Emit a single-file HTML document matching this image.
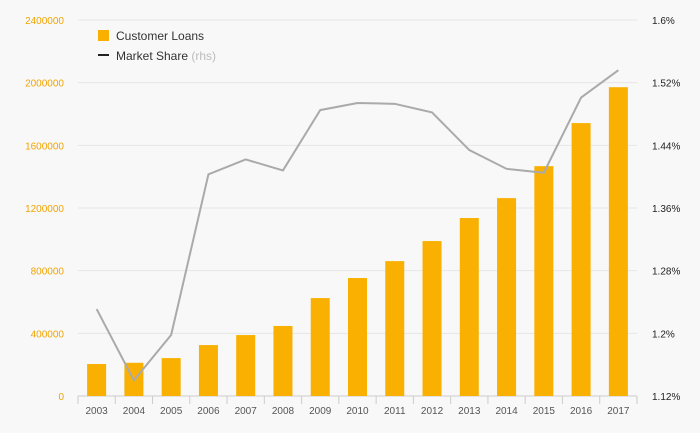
<!DOCTYPE html>
<html><head><meta charset="utf-8"><style>
html,body{margin:0;padding:0;background:#f8f8f8;}
svg{display:block;font-family:"Liberation Sans",sans-serif;}
</style></head><body>
<svg id="chart" width="700" height="433" viewBox="0 0 700 433" xmlns="http://www.w3.org/2000/svg">
<rect width="700" height="433" fill="#f8f8f8"/>
<g id="grid"></g><g id="bars"></g><g id="line"></g><g id="axes"></g>
<g>
<rect x="98" y="30" width="11" height="11" fill="#f9b000"/>
<text x="116" y="40" font-size="12" fill="#333">Customer Loans</text>
<line x1="98" y1="55" x2="109" y2="55" stroke="#222" stroke-width="2"/>
<text x="116" y="60" font-size="12" fill="#333">Market Share <tspan fill="#bbb">(rhs)</tspan></text>
</g>
</svg>
<script>
const categories=["2003","2004","2005","2006","2007","2008","2009","2010","2011","2012","2013","2014","2015","2016","2017"];
const loans=[204000,212000,242000,325000,389000,447000,625000,753000,861000,989000,1136000,1263000,1467000,1742000,1971000];
const share=[1.231,1.140,1.198,1.403,1.422,1.408,1.485,1.494,1.493,1.482,1.434,1.410,1.405,1.501,1.536];
const leftTicks=[0,400000,800000,1200000,1600000,2000000,2400000];
const rightTicks=[1.12,1.2,1.28,1.36,1.44,1.52,1.6];
const rightLabels=["1.12%","1.2%","1.28%","1.36%","1.44%","1.52%","1.6%"];
const NS="http://www.w3.org/2000/svg";
const x0=78,x1=637,yTop=20,yBot=396;
const step=(x1-x0)/categories.length;
const xc=i=>x0+step*(i+0.5);
const yL=v=>yBot-(v/2400000)*(yBot-yTop);
const yR=v=>yBot-((v-1.12)/0.48)*(yBot-yTop);
function mk(tag,attrs,parent){const e=document.createElementNS(NS,tag);for(const k in attrs)e.setAttribute(k,attrs[k]);document.getElementById(parent).appendChild(e);return e;}
leftTicks.forEach((t,i)=>{
 const g=mk("line",{x1:x0,x2:x1,y1:yL(t),y2:yL(t),stroke:i==0?"#ccc":"#e6e6e6","stroke-width":1},"grid");
 
 
 const tx=mk("text",{x:64,y:yL(t)+4,"text-anchor":"end","font-size":"10",fill:"#f0a500"},"axes");
 tx.textContent=t;
 
 
});
rightTicks.forEach((t,i)=>{
 const tx=mk("text",{x:652,y:yR(t)+4,"font-size":"10",fill:"#222"},"axes");
 tx.textContent=rightLabels[i];
 
 
});
categories.forEach((c,i)=>{
 const tk=mk("line",{x1:x0+step*i,x2:x0+step*i,y1:yBot,y2:yBot+8,stroke:"#ccc"},"axes");
 
 
 const tx=mk("text",{x:xc(i),y:414,"text-anchor":"middle","font-size":"10",fill:"#555"},"axes");
 tx.textContent=c;
 
 
 const bw=19;
 const b=mk("rect",{x:xc(i)-bw/2,y:yL(loans[i]),width:bw,height:yBot-yL(loans[i]),fill:"#f9b000"},"bars");
 
 
});
const endTick=mk("line",{x1:x1,x2:x1,y1:yBot,y2:yBot+8,stroke:"#ccc"},"axes");


const pts=share.map((v,i)=>xc(i)+","+yR(v)).join(" ");
const pl=mk("polyline",{points:pts,fill:"none",stroke:"#aaa","stroke-width":2},"line");


</script>
</body></html>
